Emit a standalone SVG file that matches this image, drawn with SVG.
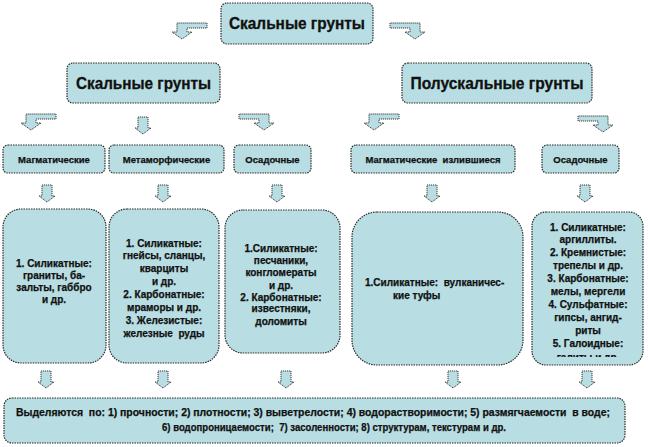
<svg xmlns="http://www.w3.org/2000/svg" width="648" height="447" viewBox="0 0 648 447">
<style>
.box{fill:#b8dee3;stroke:#2a2a2a;stroke-width:1.2;stroke-dasharray:1.5 1}
.arr{fill:#b8dee3;stroke:#3a3a3a;stroke-width:1;stroke-dasharray:1.2 0.8}
text{font-family:"Liberation Sans",Arial,sans-serif;font-weight:bold;fill:#111;white-space:pre}
.t1{font-size:16px;text-anchor:middle;stroke:#111;stroke-width:0.3}
.t3{font-size:9.5px;text-anchor:middle;stroke:#111;stroke-width:0.25}
.t4{font-size:10px;text-anchor:middle;stroke:#111;stroke-width:0.25}
.t5{font-size:10px;stroke:#111;stroke-width:0.25}
</style>
<defs>
<path id="down" d="M3,0 H13 V11 H16 L8,17 L0,11 H3 Z"/>
<path id="bentL" d="M36,0 V5 H16 V9 H21 L11,16 L1,9 H6 V0 Z"/>
<path id="bentR" d="M0,0 V5 H20 V9 H15 L25,16 L35,9 H30 V0 Z"/>
<clipPath id="clip5"><rect x="532" y="212" width="111" height="145"/></clipPath>
</defs>
<rect width="648" height="447" fill="#ffffff"/>

<g id="connectors">
<use href="#bentL" class="arr" x="171" y="23"/>
<use href="#bentR" class="arr" x="390" y="23"/>
<use href="#bentL" class="arr" x="20" y="114"/>
<use href="#down" class="arr" x="135" y="117"/>
<use href="#bentR" class="arr" x="239" y="114"/>
<use href="#bentL" class="arr" x="363" y="114"/>
<use href="#bentR" class="arr" x="578" y="116"/>
<use href="#down" class="arr" x="39" y="185"/>
<use href="#down" class="arr" x="155" y="185"/>
<use href="#down" class="arr" x="269" y="185"/>
<use href="#down" class="arr" x="424" y="185"/>
<use href="#down" class="arr" x="577" y="185"/>
<use href="#down" class="arr" x="38" y="371"/>
<use href="#down" class="arr" x="155" y="371"/>
<use href="#down" class="arr" x="278" y="371"/>
<use href="#down" class="arr" x="445" y="371"/>
<use href="#down" class="arr" x="579" y="371"/>
</g>

<g id="root">
<rect class="box" x="221" y="3" width="152" height="41" rx="6"/>
<text class="t1" x="297" y="29" textLength="136" lengthAdjust="spacingAndGlyphs">Скальные грунты</text>
</g>

<g id="rocky">
<rect class="box" x="67" y="63" width="153" height="40" rx="6"/>
<text class="t1" x="143.5" y="89" textLength="135" lengthAdjust="spacingAndGlyphs">Скальные грунты</text>
</g>

<g id="semirocky">
<rect class="box" x="402" y="63" width="190" height="40" rx="6"/>
<text class="t1" x="497" y="89" textLength="173" lengthAdjust="spacingAndGlyphs">Полускальные грунты</text>
</g>

<g id="magmatic">
<rect class="box" x="3" y="145" width="102" height="28" rx="5"/>
<text class="t3" x="54" y="162.5">Магматические</text>
</g>
<g id="metamorphic">
<rect class="box" x="109" y="145" width="115" height="28" rx="5"/>
<text class="t3" x="166.5" y="162.5">Метаморфические</text>
</g>
<g id="sedimentary1">
<rect class="box" x="234" y="145" width="77" height="28" rx="5"/>
<text class="t3" x="272.5" y="162.5">Осадочные</text>
</g>
<g id="effusive">
<rect class="box" x="351" y="145" width="164" height="28" rx="5"/>
<text class="t3" x="433" y="162.5">Магматические  излившиеся</text>
</g>
<g id="sedimentary2">
<rect class="box" x="542" y="145" width="77" height="28" rx="5"/>
<text class="t3" x="580.5" y="162.5">Осадочные</text>
</g>

<g id="box-magmatic">
<rect class="box" x="3" y="209" width="103" height="154" rx="18"/>
<text class="t4" x="54" y="267">1. Силикатные:</text>
<text class="t4" x="54" y="279">граниты, ба-</text>
<text class="t4" x="54" y="291">зальты, габбро</text>
<text class="t4" x="54" y="303">и др.</text>
</g>

<g id="box-metamorphic">
<rect class="box" x="109" y="209" width="110" height="154" rx="18"/>
<text class="t4" x="164" y="246.5">1. Силикатные:</text>
<text class="t4" x="164" y="259.4">гнейсы, сланцы,</text>
<text class="t4" x="164" y="272.3">кварциты</text>
<text class="t4" x="164" y="285.2">и др.</text>
<text class="t4" x="164" y="298.1">2. Карбонатные:</text>
<text class="t4" x="164" y="311">мраморы и др.</text>
<text class="t4" x="164" y="323.9">3. Железистые:</text>
<text class="t4" x="164" y="336.8">железные  руды</text>
</g>

<g id="box-sedimentary1">
<rect class="box" x="225" y="210" width="115" height="143" rx="18"/>
<text class="t4" x="281" y="252">1.Силикатные:</text>
<text class="t4" x="281" y="264">песчаники,</text>
<text class="t4" x="281" y="276">конгломераты</text>
<text class="t4" x="281" y="288.5">и др.</text>
<text class="t4" x="281" y="300.5">2. Карбонатные:</text>
<text class="t4" x="281" y="312">известняки,</text>
<text class="t4" x="281" y="324.5">доломиты</text>
</g>

<g id="box-effusive">
<rect class="box" x="352" y="212" width="171" height="153" rx="25"/>
<text class="t5" x="365" y="286">1.Силикатные:  вулканичес-</text>
<text class="t5" x="393" y="299">кие туфы</text>
</g>

<g id="box-sedimentary2">
<rect class="box" x="532" y="212" width="111" height="153" rx="14"/>
<g clip-path="url(#clip5)">
<text class="t4" x="588" y="230.5">1. Силикатные:</text>
<text class="t4" x="588" y="243.4">аргиллиты.</text>
<text class="t4" x="588" y="256.3">2. Кремнистые:</text>
<text class="t4" x="588" y="269.2">трепелы и др.</text>
<text class="t4" x="588" y="282.1">3. Карбонатные:</text>
<text class="t4" x="588" y="295">мелы, мергели</text>
<text class="t4" x="588" y="307.9">4. Сульфатные:</text>
<text class="t4" x="588" y="320.8">гипсы, ангид-</text>
<text class="t4" x="588" y="333.7">риты</text>
<text class="t4" x="588" y="346.6">5. Галоидные:</text>
<text class="t4" x="588" y="360.5">галиты и др.</text>
</g>
</g>

<g id="properties">
<rect class="box" x="4" y="398" width="621" height="45" rx="8"/>
<text class="t4" x="313" y="416" textLength="594" lengthAdjust="spacingAndGlyphs">Выделяются  по: 1) прочности; 2) плотности; 3) выветрелости; 4) водорастворимости; 5) размягчаемости  в воде;</text>
<text class="t4" x="334" y="431" textLength="344" lengthAdjust="spacingAndGlyphs">6) водопроницаемости;  7) засоленности; 8) структурам, текстурам и др.</text>
</g>
</svg>
